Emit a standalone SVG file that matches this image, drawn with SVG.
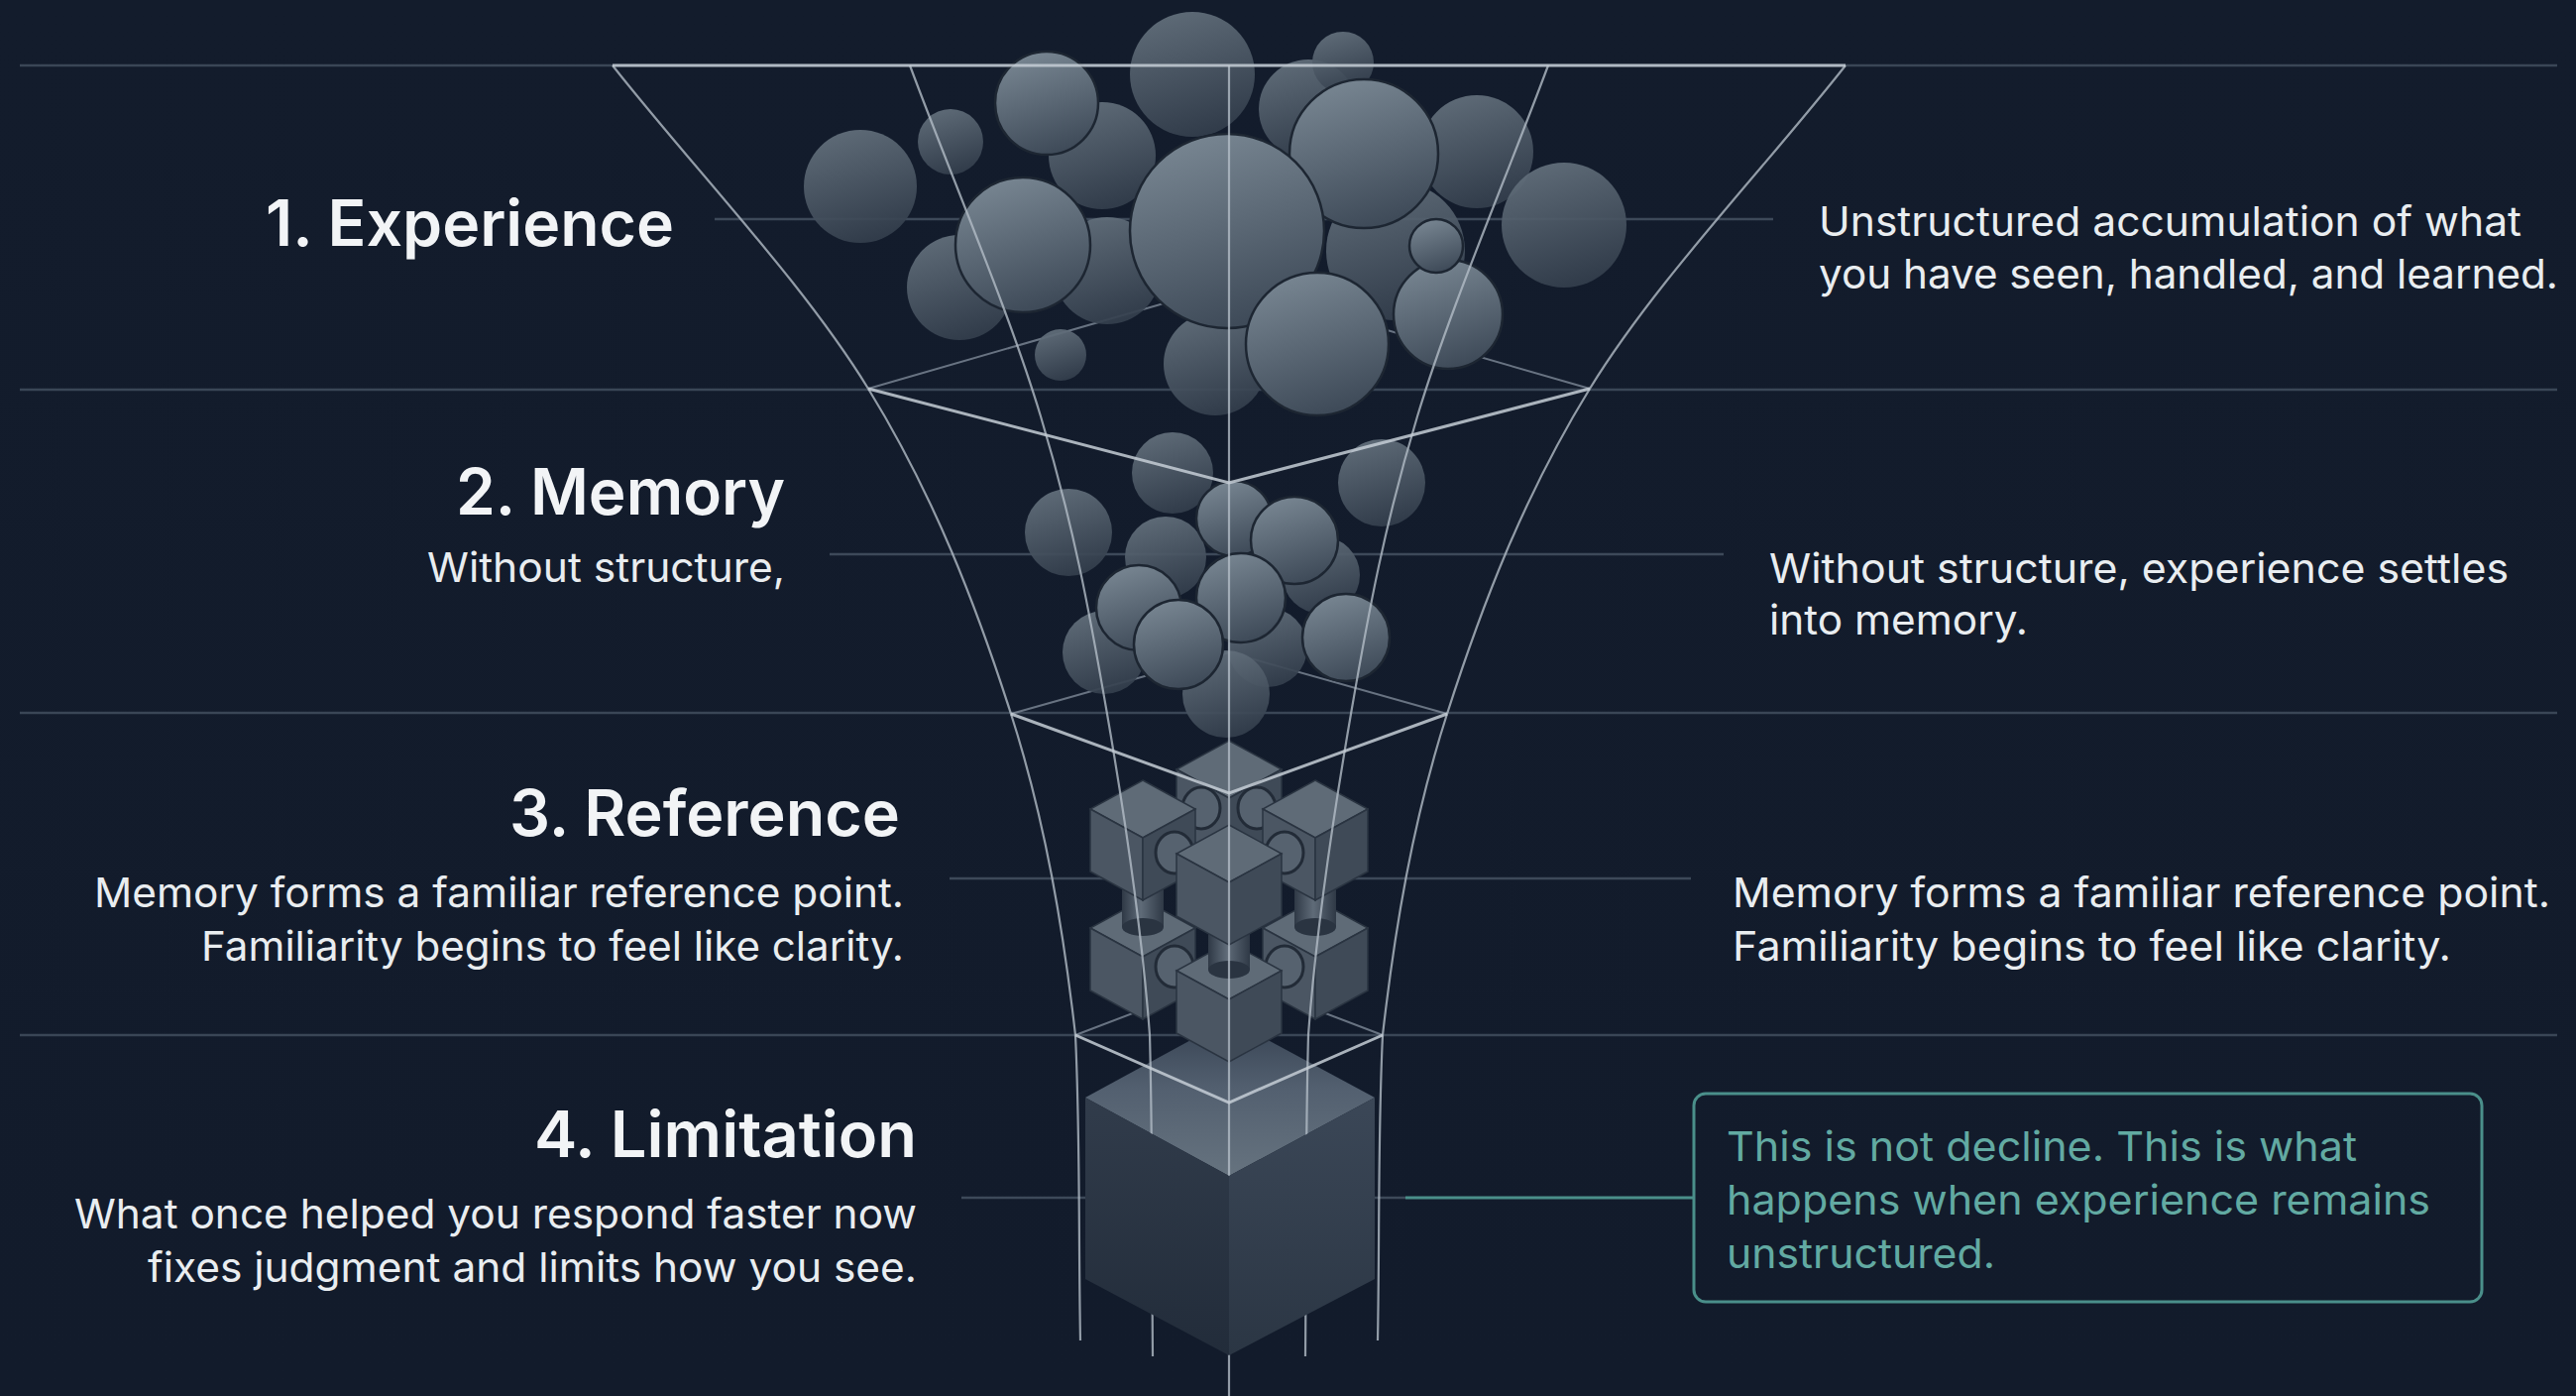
<svg xmlns="http://www.w3.org/2000/svg" width="2599" height="1408" viewBox="0 0 2599 1408">
<defs>
<linearGradient id="bg" x1="0" y1="0" x2="0" y2="1"><stop offset="0" stop-color="#131c2c"/><stop offset="1" stop-color="#121b2b"/></linearGradient>
<linearGradient id="ball" x1="0.2" y1="0" x2="0.5" y2="1"><stop offset="0" stop-color="#7a8894"/><stop offset="1" stop-color="#3f4b59"/></linearGradient>
<linearGradient id="ballb" x1="0.2" y1="0" x2="0.5" y2="1"><stop offset="0" stop-color="#66737f"/><stop offset="1" stop-color="#343f4d"/></linearGradient>
<linearGradient id="cyl" x1="0" y1="0" x2="1" y2="0"><stop offset="0" stop-color="#2f3946"/><stop offset="0.45" stop-color="#5f6b78"/><stop offset="1" stop-color="#2f3946"/></linearGradient>
<linearGradient id="bigtop" x1="0" y1="0" x2="0" y2="1"><stop offset="0" stop-color="#364252"/><stop offset="0.45" stop-color="#536070"/><stop offset="1" stop-color="#66737f"/></linearGradient>
<linearGradient id="bigleft" x1="0" y1="0" x2="0" y2="1"><stop offset="0" stop-color="#313c4b"/><stop offset="1" stop-color="#222c3a"/></linearGradient>
<linearGradient id="bigright" x1="0" y1="0" x2="0" y2="1"><stop offset="0" stop-color="#3b4757"/><stop offset="1" stop-color="#2b3644"/></linearGradient>
<g id="cube">
<polygon points="0,-29 53,0 0,29 -53,0" fill="#5f6b77" stroke="#2a3441" stroke-width="1.5"/>
<polygon points="-53,0 0,29 0,92 -53,63" fill="#4b5663" stroke="#2a3441" stroke-width="1.5"/>
<polygon points="0,29 53,0 53,63 0,92" fill="#3f4a57" stroke="#2a3441" stroke-width="1.5"/>
</g>
<g id="vcyl">
<rect x="-21" y="-30" width="42" height="50" fill="url(#cyl)"/>
<ellipse cx="0" cy="20" rx="21" ry="9" fill="#2a3441"/>
</g>
<g id="cap">
<ellipse cx="0" cy="0" rx="19" ry="21" fill="#56626f" stroke="#222b37" stroke-width="3"/>
</g>
</defs>
<style>
.sec{stroke:#3a4656;stroke-width:2.5;fill:none}
.lead{stroke:#3d4959;stroke-width:2.5;fill:none}
.wire{stroke:#b3bdc7;stroke-width:2.2;fill:none;opacity:0.8}
.front{stroke:#c6ced6;stroke-width:3;fill:none;opacity:0.85}
.back{stroke:#8d99a6;stroke-width:2;fill:none;opacity:0.7}
.b{fill:url(#ball);stroke:#1d2632;stroke-width:2.5}
.bb{fill:url(#ballb);opacity:0.92}
.title{font-family:Inter,"Liberation Sans",sans-serif;font-weight:600;font-size:64px;fill:#f2f4f6}
.body{font-family:Inter,"Liberation Sans",sans-serif;font-weight:400;font-size:41px;fill:#e9edf0}
.teal{font-family:Inter,"Liberation Sans",sans-serif;font-weight:400;font-size:41px;fill:#62aaa2}
</style>
<rect x="0" y="0" width="2599" height="1408" fill="url(#bg)"/>

<g id="section-lines">
<path class="sec" d="M20,66 H2580 M20,393 H2580 M20,719 H2580 M20,1044 H2580"/>
</g>

<g id="connectors">
<path class="lead" d="M721,221 H1789"/>
<path class="lead" d="M837,559 H1739"/>
<path class="lead" d="M958,886 H1706"/>
<path class="lead" d="M970,1208 H1418"/>
<path d="M1418,1208 H1709" stroke="#4a8f8a" stroke-width="3" fill="none"/>
</g>

<g id="funnel-back">
<path class="back" d="M876,392 L1240,287 L1604,392"/>
<path class="back" d="M1020,720 L1240,658 L1460,720"/>
<path class="back" d="M1085,1044 L1240,985 L1395,1044"/>
</g>

<g id="experience-spheres">
<circle class="bb" cx="868" cy="188" r="57"/>
<circle class="bb" cx="959" cy="143" r="33"/>
<circle class="bb" cx="1112" cy="157" r="54"/>
<circle class="bb" cx="1320" cy="110" r="50"/>
<circle class="bb" cx="1490" cy="153" r="57"/>
<circle class="bb" cx="1578" cy="227" r="63"/>
<circle class="bb" cx="1408" cy="253" r="70"/>
<circle class="bb" cx="1226" cy="367" r="52"/>
<circle class="bb" cx="968" cy="290" r="53"/>
<circle class="bb" cx="1117" cy="273" r="54"/>
<circle class="bb" cx="1203" cy="75" r="63"/>
<circle class="bb" cx="1355" cy="63" r="31"/>
<circle class="bb" cx="1070" cy="358" r="26"/>
<circle class="b" cx="1056" cy="104" r="52"/>
<circle class="b" cx="1376" cy="155" r="75"/>
<circle class="b" cx="1032" cy="247" r="68"/>
<circle class="b" cx="1461" cy="317" r="55"/>
<circle class="b" cx="1238" cy="233" r="98"/>
<circle class="b" cx="1329" cy="347" r="72"/>
<circle class="b" cx="1449" cy="248" r="27"/>
</g>

<g id="memory-spheres">
<circle class="bb" cx="1183" cy="477" r="41"/>
<circle class="bb" cx="1078" cy="537" r="44"/>
<circle class="bb" cx="1394" cy="487" r="44"/>
<circle class="bb" cx="1176" cy="562" r="41"/>
<circle class="bb" cx="1333" cy="580" r="39"/>
<circle class="bb" cx="1114" cy="658" r="42"/>
<circle class="bb" cx="1279" cy="653" r="40"/>
<circle class="bb" cx="1237" cy="700" r="44"/>
<circle class="b" cx="1245" cy="523" r="38"/>
<circle class="b" cx="1306" cy="545" r="44"/>
<circle class="b" cx="1149" cy="613" r="43"/>
<circle class="b" cx="1252" cy="603" r="45"/>
<circle class="b" cx="1358" cy="643" r="44"/>
<circle class="b" cx="1189" cy="650" r="45"/>
</g>

<g id="limitation-top">
<polygon points="1095,1107 1240,1028 1387,1107 1240,1186" fill="url(#bigtop)"/>
</g>

<g id="reference-cubes">
<use href="#cube" x="1153" y="936"/>
<use href="#cube" x="1327" y="936"/>
<use href="#cap" x="1185" y="975"/>
<use href="#cap" x="1296" y="975"/>
<use href="#cube" x="1240" y="979"/>
<use href="#vcyl" x="1153" y="915"/>
<use href="#vcyl" x="1327" y="915"/>
<use href="#vcyl" x="1240" y="958"/>
<use href="#cube" x="1240" y="776"/>
<use href="#cap" x="1212" y="815"/>
<use href="#cap" x="1268" y="815"/>
<use href="#cube" x="1153" y="816"/>
<use href="#cube" x="1327" y="816"/>
<use href="#cap" x="1185" y="860"/>
<use href="#cap" x="1296" y="860"/>
<use href="#cube" x="1240" y="861"/>
</g>

<g id="funnel-front">
<path class="wire" d="M618,66 C704,175 809,283 876,392 C943,501 985,611 1020,720 C1055,829 1073,939 1085,1044 C1090,1149 1088,1249 1090,1352"/>
<path class="wire" d="M1862,66 C1776,175 1671,283 1604,392 C1537,501 1495,611 1460,720 C1425,829 1407,939 1395,1044 C1390,1149 1392,1249 1390,1352"/>
<path class="wire" d="M918,66 C962,184 1017,311 1050,420 C1083,529 1099,616 1117,720 C1135,824 1152,936 1160,1044 C1163,1152 1162,1260 1163,1368"/>
<path class="wire" d="M1562,66 C1518,184 1463,311 1430,420 C1397,529 1381,616 1363,720 C1345,824 1328,936 1320,1044 C1317,1152 1318,1260 1317,1368"/>
<path class="wire" d="M1240,66 V1408" opacity="0.55"/>
<path class="front" d="M618,66 H1862"/>
<path class="front" d="M876,392 L1240,487 L1604,392"/>
<path class="front" d="M1020,720 L1240,800 L1460,720"/>
</g>

<g id="limitation-block">
<polygon points="1095,1107 1240,1186 1240,1367 1095,1290" fill="url(#bigleft)"/>
<polygon points="1240,1186 1387,1107 1387,1290 1240,1367" fill="url(#bigright)"/>
<path class="front" d="M1085,1044 L1240,1112 L1395,1044"/>
</g>

<g id="label-experience">
<text class="title" x="680" y="248" text-anchor="end" textLength="412" lengthAdjust="spacingAndGlyphs">1. Experience</text>
<text class="body" x="1835" y="238" textLength="709" lengthAdjust="spacingAndGlyphs">Unstructured accumulation of what</text>
<text class="body" x="1835" y="291" textLength="746" lengthAdjust="spacingAndGlyphs">you have seen, handled, and learned.</text>
</g>
<g id="label-memory">
<text class="title" x="792" y="519" text-anchor="end" textLength="332" lengthAdjust="spacingAndGlyphs">2. Memory</text>
<text class="body" x="792" y="587" text-anchor="end" textLength="361" lengthAdjust="spacingAndGlyphs">Without structure,</text>
<text class="body" x="1785" y="588" textLength="746" lengthAdjust="spacingAndGlyphs">Without structure, experience settles</text>
<text class="body" x="1785" y="640" textLength="261" lengthAdjust="spacingAndGlyphs">into memory.</text>
</g>
<g id="label-reference">
<text class="title" x="908" y="843" text-anchor="end" textLength="394" lengthAdjust="spacingAndGlyphs">3. Reference</text>
<text class="body" x="912" y="915" text-anchor="end" textLength="817" lengthAdjust="spacingAndGlyphs">Memory forms a familiar reference point.</text>
<text class="body" x="912" y="969" text-anchor="end" textLength="709" lengthAdjust="spacingAndGlyphs">Familiarity begins to feel like clarity.</text>
<text class="body" x="1748" y="915" textLength="825" lengthAdjust="spacingAndGlyphs">Memory forms a familiar reference point.</text>
<text class="body" x="1748" y="969" textLength="725" lengthAdjust="spacingAndGlyphs">Familiarity begins to feel like clarity.</text>
</g>
<g id="label-limitation">
<text class="title" x="925" y="1167" text-anchor="end" textLength="386" lengthAdjust="spacingAndGlyphs">4. Limitation</text>
<text class="body" x="925" y="1239" text-anchor="end" textLength="850" lengthAdjust="spacingAndGlyphs">What once helped you respond faster now</text>
<text class="body" x="925" y="1293" text-anchor="end" textLength="776" lengthAdjust="spacingAndGlyphs">fixes judgment and limits how you see.</text>
</g>
<g id="note-box">
<rect x="1709" y="1103" width="795" height="210" rx="12" fill="none" stroke="#4a8f8a" stroke-width="3"/>
<text class="teal" x="1742" y="1171" textLength="636" lengthAdjust="spacingAndGlyphs">This is not decline. This is what</text>
<text class="teal" x="1742" y="1225" textLength="710" lengthAdjust="spacingAndGlyphs">happens when experience remains</text>
<text class="teal" x="1742" y="1279" textLength="271" lengthAdjust="spacingAndGlyphs">unstructured.</text>
</g>
</svg>
